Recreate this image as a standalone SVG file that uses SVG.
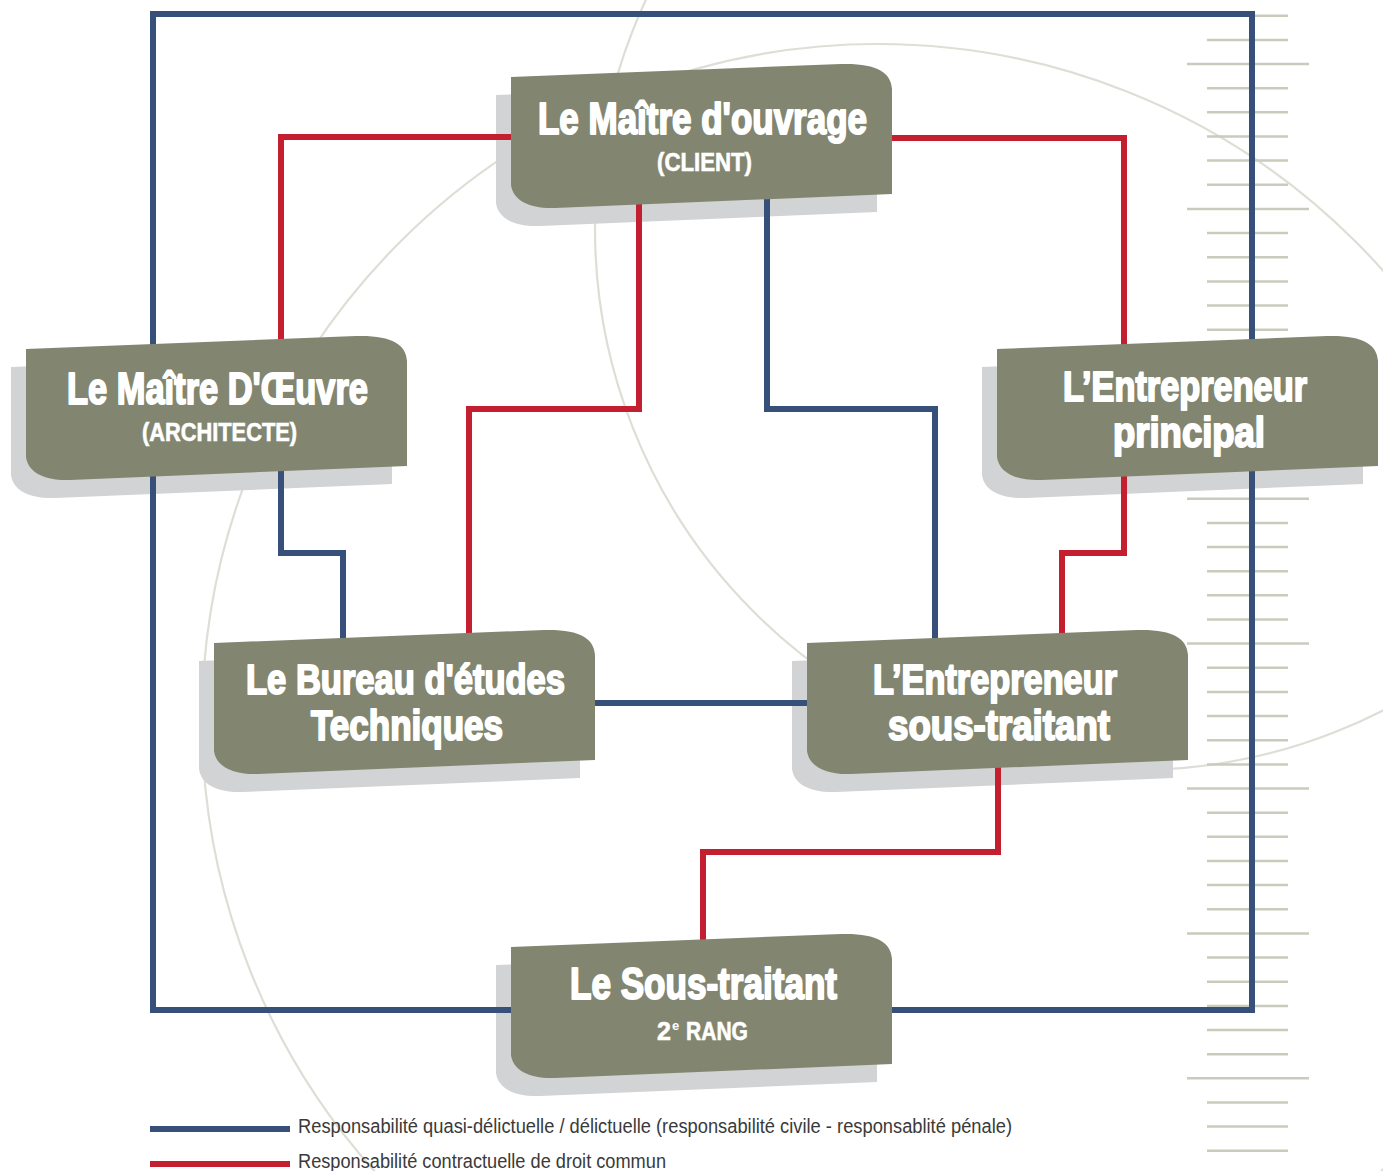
<svg xmlns="http://www.w3.org/2000/svg" width="1383" height="1171" viewBox="0 0 1383 1171">
<defs>
<style>
.arc{fill:none;stroke:#deded6;stroke-width:2.2}
.tk{stroke:#c9cbbd;stroke-width:2.5}
.blue{fill:none;stroke:#36507a;stroke-width:6;stroke-linejoin:miter}
.red{fill:none;stroke:#c41f30;stroke-width:6;stroke-linejoin:miter}
.shadow{fill:#d2d3d5}
.box{fill:#828670}
.t{font-family:"Liberation Sans Narrow","Liberation Sans",Arial,sans-serif;font-weight:bold;font-size:44px;fill:#fff;stroke:#fff;stroke-width:2;stroke-linejoin:round}
.t2{font-size:42px}
.s{font-family:"Liberation Sans",Arial,sans-serif;font-weight:bold;font-size:25px;fill:#fff;stroke:#fff;stroke-width:0.6}
.sup{font-size:13px;stroke-width:0}
.lg{font-family:"Liberation Sans Narrow","Liberation Sans",Arial,sans-serif;font-size:19.5px;fill:#3a3a3a}
</style>
<path id="nodeShape" d="M0,0 L330,-13 C365,-14 380,-5 381,12 L381,117 L44,131 C20,132 2,124 0,108 Z"/>
</defs>
<rect width="1383" height="1171" fill="#fff"/>
<g id="background">
<circle class="arc" cx="1136" cy="229" r="541"/>
<circle class="arc" cx="878" cy="720" r="676"/>
</g>
<g id="ruler">
<line class="tk" x1="1207" y1="15.7" x2="1288" y2="15.7"/>
<line class="tk" x1="1207" y1="39.9" x2="1288" y2="39.9"/>
<line class="tk" x1="1187" y1="64" x2="1309" y2="64"/>
<line class="tk" x1="1207" y1="88.2" x2="1288" y2="88.2"/>
<line class="tk" x1="1207" y1="112.3" x2="1288" y2="112.3"/>
<line class="tk" x1="1207" y1="136.5" x2="1288" y2="136.5"/>
<line class="tk" x1="1207" y1="160.6" x2="1288" y2="160.6"/>
<line class="tk" x1="1207" y1="184.8" x2="1288" y2="184.8"/>
<line class="tk" x1="1187" y1="208.9" x2="1309" y2="208.9"/>
<line class="tk" x1="1207" y1="233.1" x2="1288" y2="233.1"/>
<line class="tk" x1="1207" y1="257.2" x2="1288" y2="257.2"/>
<line class="tk" x1="1207" y1="281.4" x2="1288" y2="281.4"/>
<line class="tk" x1="1207" y1="305.5" x2="1288" y2="305.5"/>
<line class="tk" x1="1207" y1="329.7" x2="1288" y2="329.7"/>
<line class="tk" x1="1187" y1="353.8" x2="1309" y2="353.8"/>
<line class="tk" x1="1207" y1="378" x2="1288" y2="378"/>
<line class="tk" x1="1207" y1="402.1" x2="1288" y2="402.1"/>
<line class="tk" x1="1207" y1="426.3" x2="1288" y2="426.3"/>
<line class="tk" x1="1207" y1="450.4" x2="1288" y2="450.4"/>
<line class="tk" x1="1207" y1="474.6" x2="1288" y2="474.6"/>
<line class="tk" x1="1187" y1="498.7" x2="1309" y2="498.7"/>
<line class="tk" x1="1207" y1="522.9" x2="1288" y2="522.9"/>
<line class="tk" x1="1207" y1="547" x2="1288" y2="547"/>
<line class="tk" x1="1207" y1="571.2" x2="1288" y2="571.2"/>
<line class="tk" x1="1207" y1="595.3" x2="1288" y2="595.3"/>
<line class="tk" x1="1207" y1="619.5" x2="1288" y2="619.5"/>
<line class="tk" x1="1187" y1="643.6" x2="1309" y2="643.6"/>
<line class="tk" x1="1207" y1="667.8" x2="1288" y2="667.8"/>
<line class="tk" x1="1207" y1="691.9" x2="1288" y2="691.9"/>
<line class="tk" x1="1207" y1="716.1" x2="1288" y2="716.1"/>
<line class="tk" x1="1207" y1="740.2" x2="1288" y2="740.2"/>
<line class="tk" x1="1207" y1="764.4" x2="1288" y2="764.4"/>
<line class="tk" x1="1187" y1="788.5" x2="1309" y2="788.5"/>
<line class="tk" x1="1207" y1="812.7" x2="1288" y2="812.7"/>
<line class="tk" x1="1207" y1="836.8" x2="1288" y2="836.8"/>
<line class="tk" x1="1207" y1="861" x2="1288" y2="861"/>
<line class="tk" x1="1207" y1="885.1" x2="1288" y2="885.1"/>
<line class="tk" x1="1207" y1="909.3" x2="1288" y2="909.3"/>
<line class="tk" x1="1187" y1="933.4" x2="1309" y2="933.4"/>
<line class="tk" x1="1207" y1="957.6" x2="1288" y2="957.6"/>
<line class="tk" x1="1207" y1="981.7" x2="1288" y2="981.7"/>
<line class="tk" x1="1207" y1="1005.9" x2="1288" y2="1005.9"/>
<line class="tk" x1="1207" y1="1030" x2="1288" y2="1030"/>
<line class="tk" x1="1207" y1="1054.2" x2="1288" y2="1054.2"/>
<line class="tk" x1="1187" y1="1078.3" x2="1309" y2="1078.3"/>
<line class="tk" x1="1207" y1="1102.5" x2="1288" y2="1102.5"/>
<line class="tk" x1="1207" y1="1126.6" x2="1288" y2="1126.6"/>
<line class="tk" x1="1207" y1="1150.8" x2="1288" y2="1150.8"/>
</g>
<g id="shadows">
<use href="#nodeShape" class="shadow" x="496" y="95"/>
<use href="#nodeShape" class="shadow" x="11" y="367"/>
<use href="#nodeShape" class="shadow" x="982" y="367"/>
<use href="#nodeShape" class="shadow" x="199" y="661"/>
<use href="#nodeShape" class="shadow" x="792" y="661"/>
<use href="#nodeShape" class="shadow" x="496" y="965"/>
</g>
<g id="connectors">
<path class="blue" d="M153,14 H1252 V1010 H153 Z"/>
<path class="blue" d="M767,190 V409 H935 V650"/>
<path class="blue" d="M281,460 V553 H343 V650"/>
<path class="blue" d="M590,703 H812"/>
<path class="red" d="M281,350 V137 H515"/>
<path class="red" d="M885,138 H1124 V355"/>
<path class="red" d="M639,195 V409 H469 V650"/>
<path class="red" d="M1124,465 V553 H1062 V650"/>
<path class="red" d="M998,765 V852 H703 V955"/>
</g>
<g id="node-maitre-ouvrage">
<use href="#nodeShape" class="box" x="511" y="77"/>
<text class="t" x="538" y="134" textLength="329" lengthAdjust="spacingAndGlyphs">Le Maître d'ouvrage</text>
<text class="s" x="657" y="171" textLength="95" lengthAdjust="spacingAndGlyphs">(CLIENT)</text>
</g>
<g id="node-maitre-oeuvre">
<use href="#nodeShape" class="box" x="26" y="349"/>
<text class="t" x="67" y="404" textLength="301" lengthAdjust="spacingAndGlyphs">Le Maître D'Œuvre</text>
<text class="s" x="142" y="441" textLength="155" lengthAdjust="spacingAndGlyphs">(ARCHITECTE)</text>
</g>
<g id="node-entrepreneur-principal">
<use href="#nodeShape" class="box" x="997" y="349"/>
<text class="t t2" x="1063" y="401" textLength="244" lengthAdjust="spacingAndGlyphs">L’Entrepreneur</text>
<text class="t t2" x="1113" y="447" textLength="152" lengthAdjust="spacingAndGlyphs">principal</text>
</g>
<g id="node-bureau-etudes">
<use href="#nodeShape" class="box" x="214" y="643"/>
<text class="t t2" x="246" y="694" textLength="319" lengthAdjust="spacingAndGlyphs">Le Bureau d'études</text>
<text class="t t2" x="311" y="740" textLength="192" lengthAdjust="spacingAndGlyphs">Techniques</text>
</g>
<g id="node-entrepreneur-sous-traitant">
<use href="#nodeShape" class="box" x="807" y="643"/>
<text class="t t2" x="873" y="694" textLength="244" lengthAdjust="spacingAndGlyphs">L’Entrepreneur</text>
<text class="t t2" x="888" y="740" textLength="222" lengthAdjust="spacingAndGlyphs">sous-traitant</text>
</g>
<g id="node-sous-traitant-2e-rang">
<use href="#nodeShape" class="box" x="511" y="947"/>
<text class="t" x="570" y="999" textLength="267" lengthAdjust="spacingAndGlyphs">Le Sous-traitant</text>
<text class="s"><tspan x="657" y="1040">2</tspan><tspan class="sup" x="672" y="1030">e</tspan><tspan x="686" y="1040" textLength="62" lengthAdjust="spacingAndGlyphs">RANG</tspan></text>
</g>
<g id="legend">
<line x1="150" y1="1129" x2="290" y2="1129" stroke="#36507a" stroke-width="6"/>
<line x1="150" y1="1164" x2="290" y2="1164" stroke="#c41f30" stroke-width="6"/>
<text class="lg" x="298" y="1133" textLength="714" lengthAdjust="spacingAndGlyphs">Responsabilité quasi-délictuelle / délictuelle (responsabilité civile - responsablité pénale)</text>
<text class="lg" x="298" y="1168" textLength="368" lengthAdjust="spacingAndGlyphs">Responsabilité contractuelle de droit commun</text>
</g>
</svg>
